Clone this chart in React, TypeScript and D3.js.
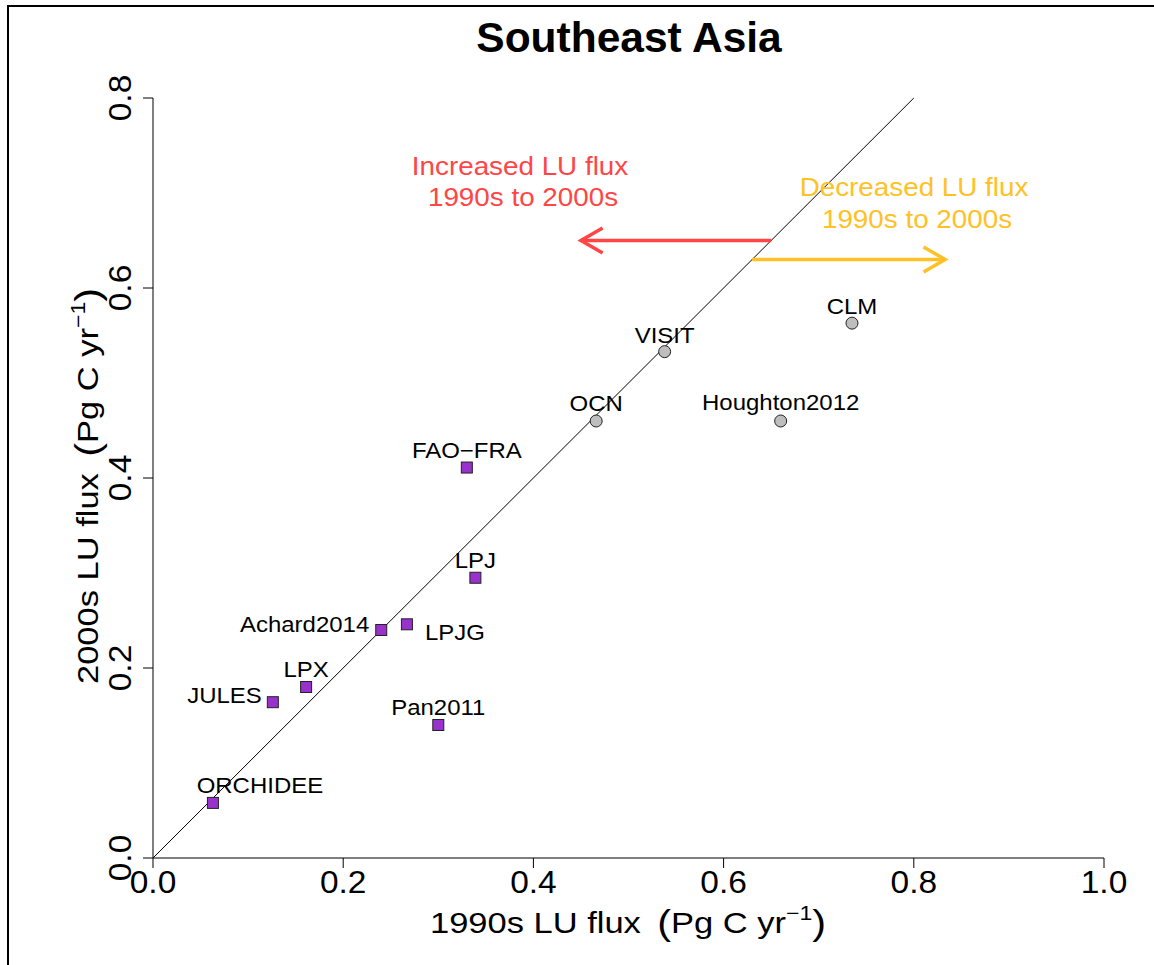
import React from "react";
import * as d3 from "d3";

const datasets = ["ORCHIDEE", "JULES", "LPX", "Achard2014", "LPJG", "Pan2011", "LPJ", "FAO-FRA", "OCN", "VISIT", "Houghton2012", "CLM"];
const flux1990s = [0.063, 0.126, 0.161, 0.240, 0.267, 0.300, 0.339, 0.330, 0.466, 0.538, 0.660, 0.735];
const flux2000s = [0.058, 0.164, 0.180, 0.240, 0.246, 0.140, 0.295, 0.411, 0.460, 0.533, 0.460, 0.563];
const markerType = ["square", "square", "square", "square", "square", "square", "square", "square", "circle", "circle", "circle", "circle"];
const xTicks = [0, 0.2, 0.4, 0.6, 0.8, 1.0];
const yTicks = [0, 0.2, 0.4, 0.6, 0.8];

// label placement (anchor, dx, dy in px)
const labelLayout: Record<string, [string, number, number]> = {
  ORCHIDEE: ["middle", 47, -10],
  JULES: ["end", -11, 1],
  LPX: ["middle", 0, -10],
  Achard2014: ["end", -12, 2],
  LPJG: ["start", 18, 16],
  Pan2011: ["middle", 0, -10],
  LPJ: ["middle", 0, -10],
  "FAO-FRA": ["middle", 0, -10],
  OCN: ["middle", 0, -10],
  VISIT: ["middle", 0, -9],
  Houghton2012: ["middle", 0, -11],
  CLM: ["middle", 0, -9],
};

const RED = "#FF4545";
const ORANGE = "#FFC125";
const FONT = "Liberation Sans, Arial, Helvetica, sans-serif";

function SText(props: {
  x: number; y: number; sx?: number; rot?: number; anchor?: string; size: number; fill?: string; weight?: string; children: React.ReactNode;
}) {
  const { x, y, sx = 1, rot = 0, anchor = "middle", size, fill = "#000", weight = "normal", children } = props;
  return (
    <g transform={`translate(${x},${y}) rotate(${rot}) scale(${sx},1)`}>
      <text x={0} y={0} textAnchor={anchor as any} fontSize={size} fill={fill} fontWeight={weight}>
        {children}
      </text>
    </g>
  );
}

export default function App() {
  const x = d3.scaleLinear().domain([0, 1]).range([153, 1104]);
  const y = d3.scaleLinear().domain([0, 1]).range([858, -92]);
  const fmt = d3.format(".1f");

  const arrowHead = (x0: number, y0: number, dir: number, color: string) => {
    const len = 25;
    const ang = Math.PI / 6;
    const p1 = [x0 - dir * len * Math.cos(ang), y0 - len * Math.sin(ang)];
    const p2 = [x0 - dir * len * Math.cos(ang), y0 + len * Math.sin(ang)];
    return (
      <path
        d={`M${p1[0]},${p1[1]}L${x0},${y0}L${p2[0]},${p2[1]}`}
        fill="none"
        stroke={color}
        strokeWidth={3.5}
      />
    );
  };

  const unitLabel = (prefix: string) => (
    <>
      <tspan>{prefix}</tspan>
      <tspan fontSize={36} dx={6} dy={2}>(</tspan>
      <tspan dy={-2}>Pg C yr</tspan>
      <tspan fontSize={20} dy={-13}>−1</tspan>
      <tspan fontSize={36} dy={15}>)</tspan>
    </>
  );

  return (
    <svg
      width={1154}
      height={965}
      style={{ position: "absolute", left: 0, top: 0, display: "block", background: "#fff" }}
      fontFamily={FONT}
    >
      <rect x={8} y={6} width={1200} height={1100} fill="none" stroke="#000" strokeWidth={2} />
      {/* title */}
      <SText x={629} y={52} size={42.5} weight="bold">Southeast Asia</SText>

      {/* axes */}
      <line x1={x(0)} x2={x(1)} y1={y(0)} y2={y(0)} stroke="#000" strokeWidth={1} />
      <line x1={x(0)} x2={x(0)} y1={y(0)} y2={y(0.8)} stroke="#000" strokeWidth={1} />
      {xTicks.map((t) => (
        <g key={"xt" + t}>
          <line x1={x(t)} x2={x(t)} y1={y(0)} y2={y(0) + 10} stroke="#000" />
          <SText x={x(t)} y={893} sx={1.08} size={31}>{fmt(t)}</SText>
        </g>
      ))}
      {yTicks.map((t) => (
        <g key={"yt" + t}>
          <line x1={x(0) - 10} x2={x(0)} y1={y(t)} y2={y(t)} stroke="#000" />
          <SText x={131} y={y(t)} rot={-90} sx={1.08} size={31}>{fmt(t)}</SText>
        </g>
      ))}

      {/* axis labels */}
      <SText x={628} y={933} sx={1.15} size={30}>{unitLabel("1990s LU flux ")}</SText>
      <SText x={98} y={486} rot={-90} sx={1.15} size={30}>{unitLabel("2000s LU flux ")}</SText>

      {/* 1:1 line */}
      <line x1={x(0)} y1={y(0)} x2={x(0.8)} y2={y(0.8)} stroke="#000" strokeWidth={1} />

      {/* annotations */}
      <line x1={x(0.65)} x2={x(0.45)} y1={y(0.65)} y2={y(0.65)} stroke={RED} strokeWidth={3.5} />
      {arrowHead(x(0.45), y(0.65), -1, RED)}
      <SText x={520} y={175} sx={1.07} size={26} fill={RED}>Increased LU flux</SText>
      <SText x={523} y={206} sx={1.07} size={26} fill={RED}>1990s to 2000s</SText>

      <line x1={x(0.63)} x2={x(0.833)} y1={y(0.63)} y2={y(0.63)} stroke={ORANGE} strokeWidth={3.5} />
      {arrowHead(x(0.833), y(0.63), 1, ORANGE)}
      <SText x={914} y={196} sx={1.07} size={26} fill={ORANGE}>Decreased LU flux</SText>
      <SText x={917} y={228} sx={1.07} size={26} fill={ORANGE}>1990s to 2000s</SText>

      {/* points */}
      {datasets.map((name, i) => {
        const px = x(flux1990s[i]);
        const py = y(flux2000s[i]);
        return markerType[i] === "square" ? (
          <rect key={name} x={px - 5.5} y={py - 5.5} width={11} height={11} fill="#9932CC" stroke="#222" strokeWidth={1} />
        ) : (
          <circle key={name} cx={px} cy={py} r={6} fill="#BEBEBE" stroke="#222" strokeWidth={1} />
        );
      })}
      {datasets.map((name, i) => {
        const [anchor, dx, dy] = labelLayout[name];
        return (
          <SText
            key={"l" + name}
            x={x(flux1990s[i]) + dx}
            y={y(flux2000s[i]) + dy}
            anchor={anchor}
            sx={1.09}
            size={22}
          >
            {name.replace("-", "−")}
          </SText>
        );
      })}
    </svg>
  );
}
